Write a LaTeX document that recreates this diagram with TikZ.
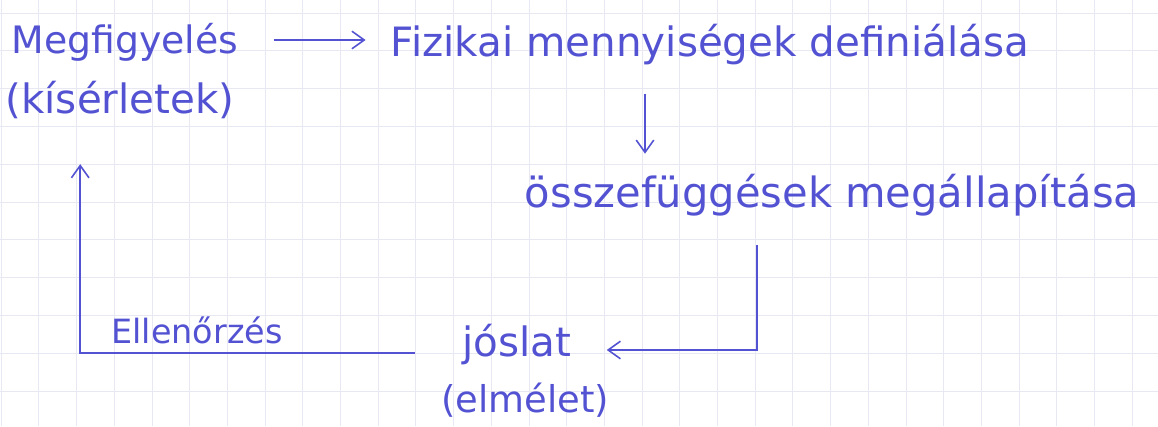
\documentclass[tikz,border=0pt]{standalone}
\usepackage{fontspec}
\setmainfont{DejaVu Sans}
\usetikzlibrary{arrows.meta,calc}
\definecolor{ink}{RGB}{82,82,210}
\definecolor{gridc}{RGB}{232,232,242}
\begin{document}
\begin{tikzpicture}[x=0.02cm,y=-0.02cm,
  lbl/.style={text=ink,font=\fontsize{23}{27}\selectfont,inner sep=0pt},
  small/.style={text=ink,font=\fontsize{19}{22}\selectfont,inner sep=0pt},
  conn/.style={draw=ink,line width=0.9pt},
  tip/.style={-{Straight Barb[length=7pt,width=10pt]}}]
\fill[white] (0,0) rectangle (1158,426);
\useasboundingbox (0,0) rectangle (1158,426);
\foreach \k in {0,...,30} \draw[gridc,line width=0.5pt] ({1.2+37.7*\k},0) -- ({1.2+37.7*\k},426);
\foreach \k in {0,...,11} \draw[gridc,line width=0.5pt] (0,{13+37.8*\k}) -- (1158,{13+37.8*\k});
\node[lbl,font=\fontsize{21.5}{25}\selectfont] (obs) at (125,42) {Megfigyelés};
\node[lbl] (exp) at (120,100) {(kísérletek)};
\node[lbl] (def) at (710,45) {Fizikai mennyiségek definiálása};
\node[lbl,font=\fontsize{23.7}{27}\selectfont] (rel) at (832,195) {összefüggések megállapítása};
\node[lbl] (pred) at (517,345) {jóslat};
\node[lbl,font=\fontsize{21}{25}\selectfont] (theo) at (525,400) {(elmélet)};
\node[small] (chk) at (197,330) {Ellenőrzés};
\draw[conn,tip] ($(obs.east)+(35,-2)$) -- ($(def.west)+(-25,-5)$);
\draw[conn,tip] ($(def.south)+(-65,28)$) -- ($(def.south)+(-65,88)$);
\draw[conn,tip] ($(rel.south)+(-75,29)$) |- ($(pred.east)+(35,5)$);
\draw[conn,tip] ($(pred.west)+(-47,8)$) -| ($(exp.south west)+(75,45)$);
\end{tikzpicture}
\end{document}
